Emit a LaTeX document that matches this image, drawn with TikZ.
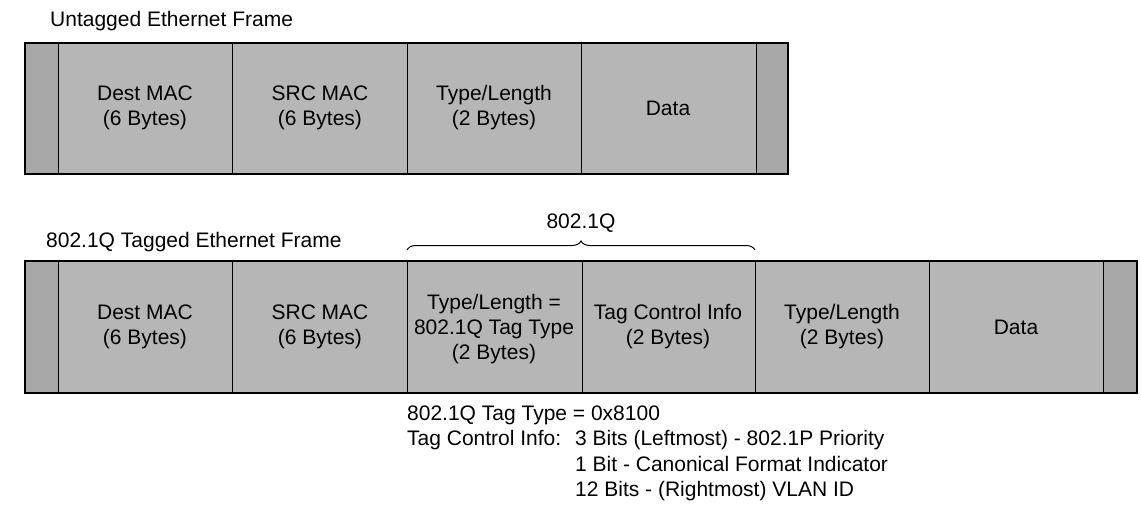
\documentclass[tikz,border=0pt]{standalone}
\usepackage{fontspec}
\setmainfont{Liberation Sans}
\usetikzlibrary{decorations.pathreplacing}
\definecolor{cellgray}{RGB}{182,182,182}
\definecolor{endgray}{RGB}{168,168,168}
\begin{document}
\begin{tikzpicture}[x=1pt,y=-1pt,
  lbl/.style={font=\fontsize{21}{25}\selectfont, inner sep=0pt, align=center, text=black},
  plain/.style={font=\fontsize{21}{25}\selectfont, inner sep=0pt, anchor=base west, text=black},
  cell/.style={fill=cellgray, draw=black, line width=1pt},
  endcell/.style={fill=endgray, draw=black, line width=1pt},
  frame/.style={draw=black, line width=1.4pt}]
\useasboundingbox (0,0) rectangle (1141,504);
% ---------- Untagged frame ----------
\node[plain] (t1) at (50,26) {Untagged Ethernet Frame};
\draw[endcell] (25,43) rectangle (58,174);
\draw[cell] (58,43) rectangle (232,174);
\draw[cell] (232,43) rectangle (407,174);
\draw[cell] (407,43) rectangle (581,174);
\draw[cell] (581,43) rectangle (756,174);
\draw[endcell] (756,43) rectangle (788,174);
\draw[frame] (25,43) rectangle (788,174);
\node[lbl] (u1) at (145,108) {Dest MAC\\(6 Bytes)};
\node[lbl] (u2) at (320,108) {SRC MAC\\(6 Bytes)};
\node[lbl] (u3) at (494,108) {Type/Length\\(2 Bytes)};
\node[lbl] (u4) at (668,108) {Data};
% ---------- Tagged frame ----------
\node[plain] (t2) at (46,247) {802.1Q Tagged Ethernet Frame};
\draw[endcell] (25,261) rectangle (58,393);
\draw[cell] (58,261) rectangle (232,393);
\draw[cell] (232,261) rectangle (407,393);
\draw[cell] (407,261) rectangle (582,393);
\draw[cell] (582,261) rectangle (755,393);
\draw[cell] (755,261) rectangle (929,393);
\draw[cell] (929,261) rectangle (1103,393);
\draw[endcell] (1103,261) rectangle (1137,393);
\draw[frame] (25,261) rectangle (1137,393);
\node[lbl] (g1) at (145,327) {Dest MAC\\(6 Bytes)};
\node[lbl] (g2) at (320,327) {SRC MAC\\(6 Bytes)};
\node[lbl] (g3) at (494,329) {Type/Length =\\802.1Q Tag Type\\(2 Bytes)};
\node[lbl] (g4) at (668,327) {Tag Control Info\\(2 Bytes)};
\node[lbl] (g5) at (842,327) {Type/Length\\(2 Bytes)};
\node[lbl] (g6) at (1016,327) {Data};
% ---------- brace ----------
\coordinate (bl) at (407,250);
\coordinate (br) at (755,250);
\draw[line width=1pt, decorate, decoration={brace, amplitude=9pt}] (bl) -- (br);
\node[lbl, anchor=base] (bq) at (581,228) {802.1Q};
% ---------- notes ----------
\node[plain] (n1) at (407,420) {802.1Q Tag Type = 0x8100};
\node[plain] (n2) at (407,445.5) {Tag Control Info:};
\node[plain] (n3) at (575,445.5) {3 Bits (Leftmost) - 802.1P Priority};
\node[plain] (n4) at (575,471) {1 Bit - Canonical Format Indicator};
\node[plain] (n5) at (575,496.5) {12 Bits - (Rightmost) VLAN ID};
\end{tikzpicture}
\end{document}
